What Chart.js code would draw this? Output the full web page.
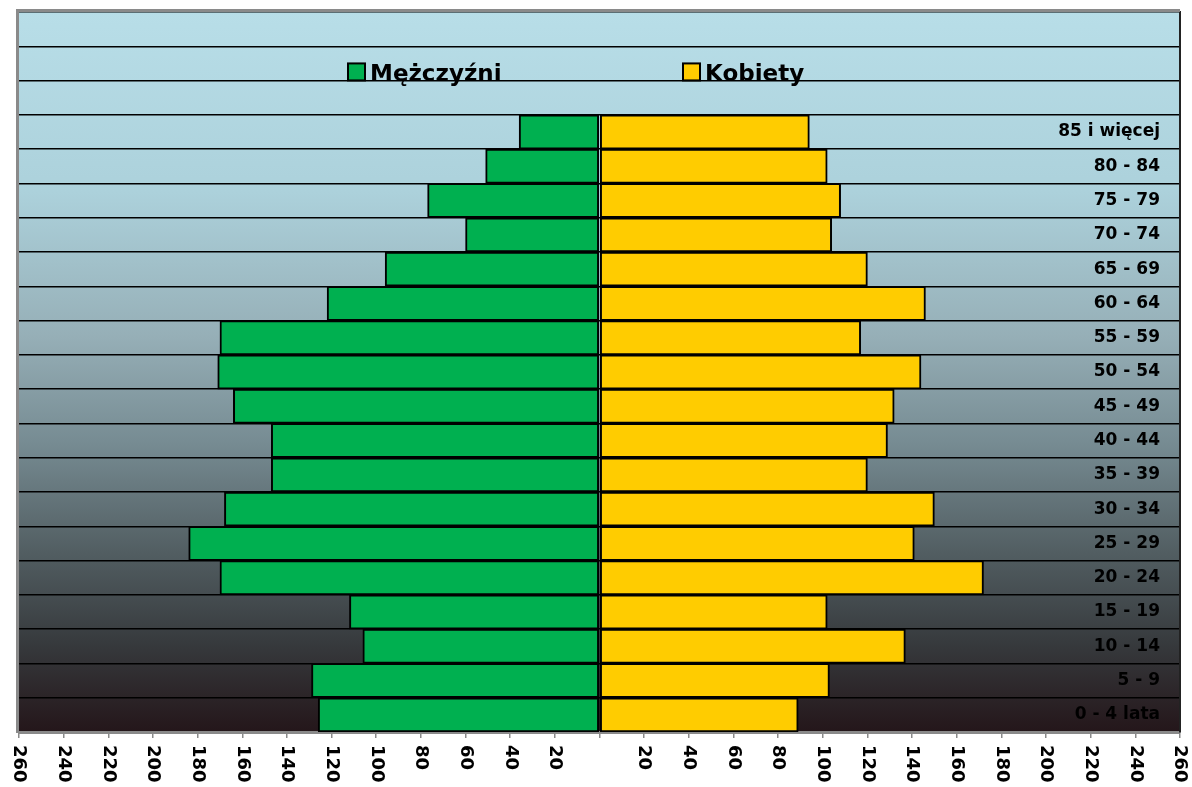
<!DOCTYPE html>
<html>
<head>
<meta charset="utf-8">
<script src="https://cdn.jsdelivr.net/npm/chart.js@4"></script>
<style>
  html, body { margin: 0; padding: 0; background: #fff; }
  #wrap { width: 1192px; height: 787px; position: relative; }
</style>
</head>
<body>
<div id="wrap"><canvas id="c"></canvas></div>
<script>
/* Population pyramid: men (left) vs women (right) by 5-year age group.
   Three empty rows on top hold the legend, as in the source chart. */

const AGE_GROUPS = ["0 - 4 lata", "5 - 9", "10 - 14", "15 - 19", "20 - 24", "25 - 29", "30 - 34",
  "35 - 39", "40 - 44", "45 - 49", "50 - 54", "55 - 59", "60 - 64", "65 - 69", "70 - 74",
  "75 - 79", "80 - 84", "85 i więcej", "", "", ""];
const MEN   = [126, 129, 106, 112, 170, 184, 168, 147, 147, 164, 171, 170, 122, 96, 60, 77, 51, 36];
const WOMEN = [89, 103, 137, 102, 172, 141, 150, 120, 129, 132, 144, 117, 146, 120, 104, 108, 102, 94];
const X_MIN = -260, X_MAX = 260, X_STEP = 20;
const SERIES = ["Mężczyźni", "Kobiety"];
const FONT = "'DejaVu Sans', 'Liberation Sans', sans-serif";

// plot background: light blue at top fading to near-black at the bottom
const bgGradient = {
  id: "bgGradient",
  beforeDraw(chart) {
    const { ctx, chartArea: a } = chart;
    const g = ctx.createLinearGradient(0, a.top, 0, a.bottom);
    g.addColorStop(0, "#b8dee8");
    g.addColorStop(0.25, "#acd1db");
    g.addColorStop(0.45, "#96afb7");
    g.addColorStop(0.6, "#768b92");
    g.addColorStop(0.75, "#525e62");
    g.addColorStop(0.88, "#36393c");
    g.addColorStop(1, "#24161a");
    ctx.save();
    ctx.fillStyle = g;
    ctx.fillRect(a.left, a.top, a.right - a.left, a.bottom - a.top);
    ctx.restore();
  },
  afterDraw(chart) {
    const { ctx, chartArea: a } = chart;
    ctx.save();
    ctx.strokeStyle = "#8a8a8a";
    ctx.lineWidth = 3;
    ctx.beginPath();
    ctx.moveTo(a.left - 1.5, a.bottom + 1);
    ctx.lineTo(a.left - 1.5, a.top - 1.5);
    ctx.lineTo(a.right, a.top - 1.5);
    ctx.stroke();
    ctx.restore();
  },
};

// legend sits inside the top rows of the plot
const innerLegend = {
  id: "innerLegend",
  afterDatasetsDraw(chart) {
    const { ctx } = chart;
    const y = chart.scales.y.getPixelForValue(19);
    const xs = [348, 683];
    ctx.save();
    ctx.font = "bold 23px " + FONT;
    ctx.textBaseline = "alphabetic";
    chart.data.datasets.forEach((ds, i) => {
      ctx.fillStyle = ds.backgroundColor;
      ctx.fillRect(xs[i], y, 17, 17);
      ctx.strokeStyle = "#000";
      ctx.lineWidth = 2;
      ctx.strokeRect(xs[i], y, 17, 17);
      ctx.fillStyle = "#000";
      ctx.fillText(ds.label, xs[i] + 22, y + 18);
    });
    ctx.restore();
  },
};

// x tick labels rotated clockwise (read top to bottom), absolute values, no "0"
const xLabels = {
  id: "xLabels",
  afterDraw(chart) {
    const { ctx } = chart;
    const sx = chart.scales.x;
    ctx.save();
    ctx.font = "bold 18px " + FONT;
    ctx.fillStyle = "#000";
    ctx.textAlign = "left";
    ctx.textBaseline = "middle";
    sx.ticks.forEach(t => {
      if (t.value === 0) return;
      ctx.save();
      ctx.translate(sx.getPixelForValue(t.value), sx.top + 13);
      ctx.rotate(Math.PI / 2);
      ctx.fillText(String(Math.abs(t.value)), 0, 0);
      ctx.restore();
    });
    ctx.restore();
  },
};

new Chart(document.getElementById("c"), {
  type: "bar",
  data: {
    labels: AGE_GROUPS,
    datasets: [
      { label: SERIES[0], data: MEN.map(v => -v), backgroundColor: "#00b050",
        borderColor: "#000", borderWidth: 2, borderSkipped: false, barPercentage: 1, categoryPercentage: 1 },
      { label: SERIES[1], data: WOMEN, backgroundColor: "#ffcc00",
        borderColor: "#000", borderWidth: 2, borderSkipped: false, barPercentage: 1, categoryPercentage: 1 },
    ],
  },
  plugins: [bgGradient, innerLegend, xLabels],
  options: {
    indexAxis: "y",
    responsive: true, maintainAspectRatio: false, animation: false,
    layout: { padding: { top: 12, left: 19, right: 12, bottom: 0 } },
    plugins: { legend: { display: false }, tooltip: { enabled: false }, title: { display: false } },
    scales: {
      x: {
        stacked: true, min: X_MIN, max: X_MAX,
        ticks: { stepSize: X_STEP, color: "transparent", maxRotation: 0, autoSkip: false,
                 callback: v => v === 0 ? "" : Math.abs(v) },
        grid: { drawOnChartArea: false, drawTicks: true, tickLength: 6, color: "#8a8a8a", lineWidth: 1.5 },
        border: { color: "#8a8a8a", width: 3 },
        afterFit(s) { s.height = 55; s.paddingLeft = 0; s.paddingRight = 0; },
      },
      y: {
        stacked: true, position: "right", reverse: true,
        ticks: { mirror: true, padding: -20, color: "#000", font: { family: FONT, size: 17, weight: "bold" } },
        grid: { color: "#000", lineWidth: 1.5, drawTicks: false, offset: true },
        border: { color: "#222", width: 2 },
        afterFit(s) { s.width = 0; s.paddingTop = 0; s.paddingBottom = 0; },
      },
    },
  },
});
</script>
</body>
</html>
